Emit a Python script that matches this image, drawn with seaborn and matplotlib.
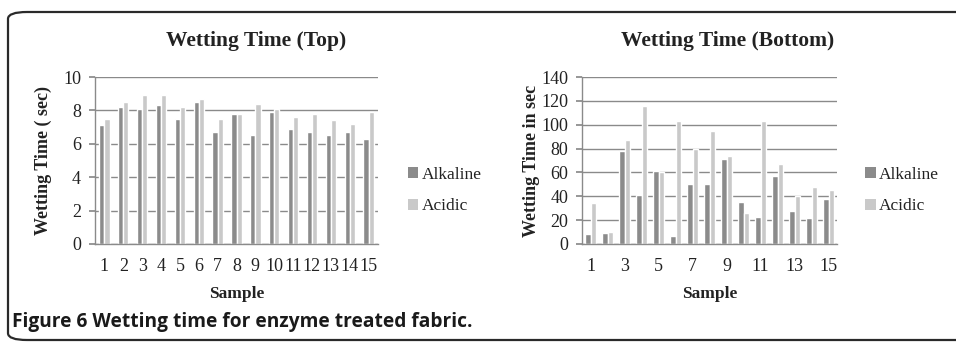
import numpy as np
import pandas as pd
import matplotlib
matplotlib.use("Agg")
import matplotlib.pyplot as plt
from matplotlib.patches import FancyBboxPatch, Patch
import seaborn as sns

samples = [str(i) for i in range(1, 16)]
top_alkaline = [7.1, 8.2, 8.1, 8.3, 7.5, 8.5, 6.7, 7.8, 6.5, 7.9, 6.9, 6.7, 6.5, 6.7, 6.3]
top_acidic = [7.5, 8.5, 8.9, 8.9, 8.2, 8.7, 7.5, 7.8, 8.4, 8.1, 7.6, 7.8, 7.4, 7.2, 7.9]
bot_alkaline = [8, 9, 78, 41, 61, 7, 50, 50, 71, 35, 23, 57, 28, 22, 38]
bot_acidic = [34, 10, 87, 116, 60, 103, 80, 95, 74, 26, 103, 67, 40, 48, 45]
series = ["Alkaline", "Acidic"]
colors = ["#8b8b8b", "#c9c9c9"]

def long_df(a, b):
    return pd.DataFrame({
        "Sample": samples * 2,
        "Value": a + b,
        "Type": [series[0]] * len(a) + [series[1]] * len(b),
    })

sns.set_theme(style="white")
plt.rcParams["font.family"] = ["Liberation Serif", "DejaVu Serif"]

fig = plt.figure(figsize=(9.56, 3.43), dpi=100)

# border
border = FancyBboxPatch((8 / 956, 3 / 343), 1.2, 328 / 343,
                        boxstyle="round,pad=0,rounding_size=0.02",
                        transform=fig.transFigure, fill=False,
                        edgecolor="#2a2a2a", linewidth=1.6, clip_on=False)
fig.patches.append(border)

txt_color = "#222222"
grid_color = "#8a8a8a"

def style_axis(ax, ymax, step, ylabel, title, title_x, ylabelpad):
    ax.set_ylim(0, ymax)
    ax.set_yticks(np.arange(0, ymax + 1, step))
    ax.yaxis.grid(True, color=grid_color, linewidth=1.0, linestyle="-")
    ax.xaxis.grid(False)
    ax.set_axisbelow(True)
    for s in ["top", "right"]:
        ax.spines[s].set_visible(False)
    ax.spines["left"].set_color(grid_color)
    ax.spines["bottom"].set_color(grid_color)
    ax.spines["left"].set_linewidth(1.0)
    ax.spines["bottom"].set_linewidth(1.0)
    ax.tick_params(axis="y", length=4, color=grid_color, labelsize=13, labelcolor=txt_color, pad=6, left=True)
    ax.tick_params(axis="x", length=0, labelsize=13, labelcolor=txt_color, pad=10)
    ax.set_xlabel("Sample", fontsize=12.5, fontweight="bold", color=txt_color, labelpad=8)
    ax.set_ylabel(ylabel, fontsize=13, fontweight="bold", color=txt_color, labelpad=ylabelpad)
    ax.set_title(title, fontsize=15.5, fontweight="bold", color=txt_color, pad=22, x=title_x)
    handles = [Patch(facecolor=c, edgecolor="none") for c in colors]
    ax.legend(handles, series, loc="center left", bbox_to_anchor=(1.05, 0.32),
              frameon=False, fontsize=12.5, handlelength=0.6, handleheight=0.6,
              handletextpad=0.2, labelspacing=0.9, labelcolor=txt_color)

ax1 = fig.add_axes([95 / 956, 1 - 244 / 343, 283 / 956, 167 / 343])
sns.barplot(data=long_df(top_alkaline, top_acidic), x="Sample", y="Value", hue="Type",
            palette=colors, width=0.55, ax=ax1, legend=False, saturation=1)
ax1.set_xlim(-0.5, 14.5)
style_axis(ax1, 10, 2, "Wetting Time ( sec)", "Wetting Time (Top)", 0.57, 8)

ax2 = fig.add_axes([582 / 956, 1 - 244 / 343, 255 / 956, 167 / 343])
sns.barplot(data=long_df(bot_alkaline, bot_acidic), x="Sample", y="Value", hue="Type",
            palette=colors, width=0.6, ax=ax2, legend=False, saturation=1)
ax2.set_xlim(-0.5, 14.5)
ax2.set_xticks(range(0, 15, 2))
ax2.set_xticklabels(samples[::2])
style_axis(ax2, 140, 20, "Wetting Time in sec", "Wetting Time (Bottom)", 0.57, 1)

fig.text(12 / 956, 1 - 322 / 343, "Figure 6 Wetting time for enzyme treated fabric.",
         fontsize=13.8, fontweight="bold", family=["Open Sans", "DejaVu Sans"],
         color="#1a1a1a", va="center", ha="left")

fig.savefig("out.png", dpi=100)
